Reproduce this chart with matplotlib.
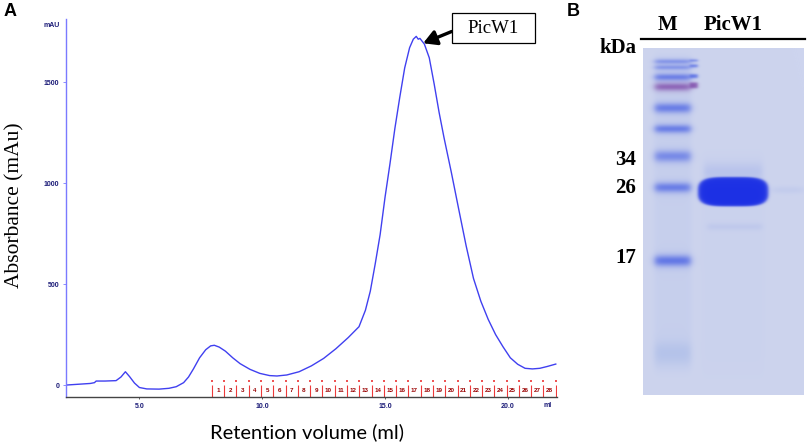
import numpy as np
import matplotlib
matplotlib.use("Agg")
import matplotlib.pyplot as plt
from matplotlib.lines import Line2D
from matplotlib.patches import Rectangle

W_PX, H_PX = 809, 445

# -------------------------------
# Panel A: gel filtration trace
# -------------------------------
vol_ml = [2.0, 2.5, 3.0, 3.17, 3.24, 3.6, 4.05, 4.25, 4.43, 4.6, 4.8, 5.0, 5.3, 5.8,
          6.2, 6.5, 6.8, 7.0, 7.2, 7.45, 7.7, 7.9, 8.05, 8.25, 8.5, 8.8, 9.1, 9.5,
          9.9, 10.3, 10.6, 11.0, 11.5, 12.0, 12.5, 13.0, 13.5, 13.94, 14.2, 14.4,
          14.6, 14.8, 15.0, 15.2, 15.4, 15.6, 15.8, 16.0, 16.15, 16.27, 16.35, 16.42,
          16.6, 16.8, 17.0, 17.2, 17.4, 17.7, 18.0, 18.3, 18.6, 18.9, 19.2, 19.5,
          19.8, 20.1, 20.4, 20.7, 21.0, 21.3, 21.6, 21.95]
abs_mau = [0, 4, 8, 12, 20, 20, 22, 40, 66, 42, 10, -12, -19, -20,
           -16, -8, 12, 40, 80, 135, 175, 194, 197, 188, 168, 135, 106, 78,
           58, 47, 45, 50, 66, 95, 132, 180, 235, 289, 370, 465,
           600, 745, 930, 1095, 1270, 1425, 1570, 1670, 1712, 1726, 1712, 1716,
           1688, 1620, 1490, 1350, 1225, 1052, 870, 690, 528, 415, 325, 250,
           190, 135, 103, 83, 80, 83, 92, 104]

y_ticks = [0, 500, 1000, 1500]
x_ticks = [5.0, 10.0, 15.0, 20.0]

# collected fractions (0.5 ml each)
frac_start = 7.95
frac_size = 0.5
frac_count = 28

# -------------------------------
# Panel B: SDS-PAGE bands (migration as fraction of gel height)
# -------------------------------
marker_pos = [0.039, 0.056, 0.084, 0.112, 0.173, 0.233, 0.312, 0.402, 0.613, 0.879]
marker_thick = [0.004, 0.004, 0.010, 0.013, 0.018, 0.014, 0.022, 0.018, 0.021, 0.05]
marker_strength = [0.95, 0.92, 0.95, 0.95, 0.82, 0.88, 0.66, 0.82, 0.85, 0.3]
kda_labels = ["34", "26", "17"]
kda_pos = [0.322, 0.403, 0.605]

picw1_pos = 0.414
picw1_thick = 0.084

fig = plt.figure(figsize=(W_PX / 100, H_PX / 100), dpi=100)


def fx(px):
    return px / W_PX


def fy(py):
    return 1 - py / H_PX


# ==================================================================================
# A) chromatogram
# ==================================================================================
ax = fig.add_axes([fx(65.7), fy(397), fx(557) - fx(65.7), fy(19) - fy(397)])
ax.plot(vol_ml, abs_mau, color="#4040f0", lw=1.0)
ax.set_xlim(2.0, 22.0)
ax.set_ylim(-59, 1812)

for s in ["top", "right"]:
    ax.spines[s].set_visible(False)
ax.spines["left"].set_color("#7a7aff")
ax.spines["left"].set_linewidth(1.0)
ax.spines["bottom"].set_color("#444444")
ax.spines["bottom"].set_linewidth(1.0)

tick_font = dict(fontsize=5, fontweight="bold", color="#1c1c78", family="Liberation Sans")
ax.set_yticks(y_ticks)
ax.set_yticklabels([str(v) for v in y_ticks], **tick_font)
ax.set_xticks(x_ticks)
ax.set_xticklabels([f"{v:.1f}" for v in x_ticks], **tick_font)
ax.tick_params(axis="y", length=2.5, width=0.6, color="#7a7aff", pad=2)
ax.tick_params(axis="x", length=1.5, width=0.6, color="#444444", pad=3)
ax.text(-0.028, 0.984, "mAU", transform=ax.transAxes, ha="center", va="center", **tick_font)
ax.text(0.981, -0.022, "ml", transform=ax.transAxes, ha="center", va="center", **tick_font)

# fraction marks
edges = [frac_start + i * frac_size for i in range(frac_count + 1)]
ax.vlines(edges, -70, 0, color="#ee3a3a", lw=0.8)
ax.scatter(edges, [20] * len(edges), s=0.6, color="#ee5555", marker="s", lw=0)
for i in range(frac_count):
    ax.text(edges[i] + frac_size / 2, -27, str(i + 1), ha="center", va="center",
            fontsize=4.5, fontweight="bold", color="#9a0000", family="Liberation Sans")

fig.text(fx(15), fy(205), "Absorbance (mAu)", rotation=90, ha="center", va="center",
         family="Liberation Serif", fontsize=15.5)
fig.text(fx(307), fy(432), "Retention volume (ml)", ha="center", va="center",
         family="Lato", fontsize=14.5)

# peak label box + arrow
fig.add_artist(Rectangle((fx(451.7), fy(43.3)), fx(535) - fx(451.7), fy(13.3) - fy(43.3),
                         transform=fig.transFigure, fc="white", ec="black", lw=0.9))
fig.text(fx(493.5), fy(28.5), "PicW1", ha="center", va="center",
         family="Liberation Serif", fontsize=13.5)
ax.annotate("", xy=(16.55, 1692), xycoords="data",
            xytext=(fx(451.7), fy(31.5)), textcoords="figure fraction",
            arrowprops=dict(arrowstyle="-|>,head_length=0.8,head_width=0.45",
                            color="black", lw=2.4, shrinkA=0, shrinkB=0),
            annotation_clip=False)

fig.text(fx(10), fy(12), "A", fontsize=13, fontweight="bold", family="Liberation Sans",
         ha="center", va="center")
fig.text(fx(573), fy(12), "B", fontsize=13, fontweight="bold", family="Liberation Sans",
         ha="center", va="center")

# ==================================================================================
# B) gel picture built from band list
# ==================================================================================
gx = fig.add_axes([fx(642.7), fy(395), fx(803.3) - fx(642.7), fy(48.3) - fy(395)])
H, W = 347, 161
yy = (np.arange(H) + 0.5) / H
xx = (np.arange(W) + 0.5) / W
bg = np.array([205, 212, 238]) / 255.0
img = np.ones((H, W, 3)) * bg


def soft_box(u, lo, hi, s):
    return 1 / (1 + np.exp(-(u - lo) / s)) / (1 + np.exp((u - hi) / s))


def stain(img, alpha, rgb):
    a = np.clip(alpha, 0, 1)[..., None]
    return img * (1 - a) + np.array(rgb) / 255.0 * a


# faint lane tints
img = stain(img, 0.08 * np.outer(soft_box(yy, 0.02, 0.93, 0.01), soft_box(xx, 0.07, 0.30, 0.01)),
            (120, 150, 225))
img = stain(img, 0.04 * np.outer(soft_box(yy, 0.3, 0.95, 0.02), soft_box(xx, 0.36, 0.76, 0.01)),
            (150, 170, 225))

marker_x = soft_box(xx, 0.075, 0.295, 0.012)
for i, (p, t, a) in enumerate(zip(marker_pos, marker_thick, marker_strength)):
    col = (105, 35, 150) if i == 3 else (38, 66, 225)
    if i == len(marker_pos) - 1:
        col = (130, 160, 225)
    yp = soft_box(yy, p - t / 2, p + t / 2, 0.003 + t * 0.15)
    img = stain(img, a * np.outer(yp, marker_x), col)
    if i < 4:
        tail = soft_box(xx, 0.29, 0.34, 0.006) * 0.7
        img = stain(img, a * np.outer(soft_box(yy, p - t / 2 - 0.003 * (1 + i % 2), p + t / 2 - 0.003, 0.002), tail), col)

# PicW1 band: rounded slab
dx = (xx[None, :] - 0.56) / 0.217
dy = (yy[:, None] - picw1_pos) / (picw1_thick / 2)
r = np.abs(dx) ** 4 + np.abs(dy) ** 3
img = stain(img, 0.98 / (1 + np.exp((r - 1) / 0.12)), (25, 45, 228))
# smear above and minor bands
img = stain(img, 0.18 * np.outer(soft_box(yy, 0.34, 0.375, 0.01), soft_box(xx, 0.38, 0.74, 0.01)),
            (70, 100, 225))
img = stain(img, 0.12 * np.outer(soft_box(yy, 0.508, 0.522, 0.004), soft_box(xx, 0.40, 0.74, 0.01)),
            (80, 110, 220))
img = stain(img, 0.12 * np.outer(soft_box(yy, 0.402, 0.416, 0.004), soft_box(xx, 0.80, 1.0, 0.02)),
            (90, 120, 220))

gx.imshow(img, extent=[0, 1, 1, 0], aspect="auto", interpolation="bilinear")
gx.set_xlim(0, 1)
gx.set_ylim(1, 0)
gx.axis("off")

fig.add_artist(Line2D([fx(641), fx(805)], [fy(39.3), fy(39.3)], color="black", lw=1.6))
lab_font = dict(family="Liberation Serif", fontweight="bold", fontsize=15)
fig.text(fx(667), fy(25), "M", ha="center", va="center", **lab_font)
fig.text(fx(733.5), fy(25), "PicW1", ha="center", va="center", **lab_font)
fig.text(fx(636), fy(48), "kDa", ha="right", va="center", **lab_font)
for lab, p in zip(kda_labels, kda_pos):
    fig.text(fx(636.5), fy(48.3 + p * 346.7), lab, ha="right", va="center", **lab_font)

fig.savefig("out.png", dpi=100)
